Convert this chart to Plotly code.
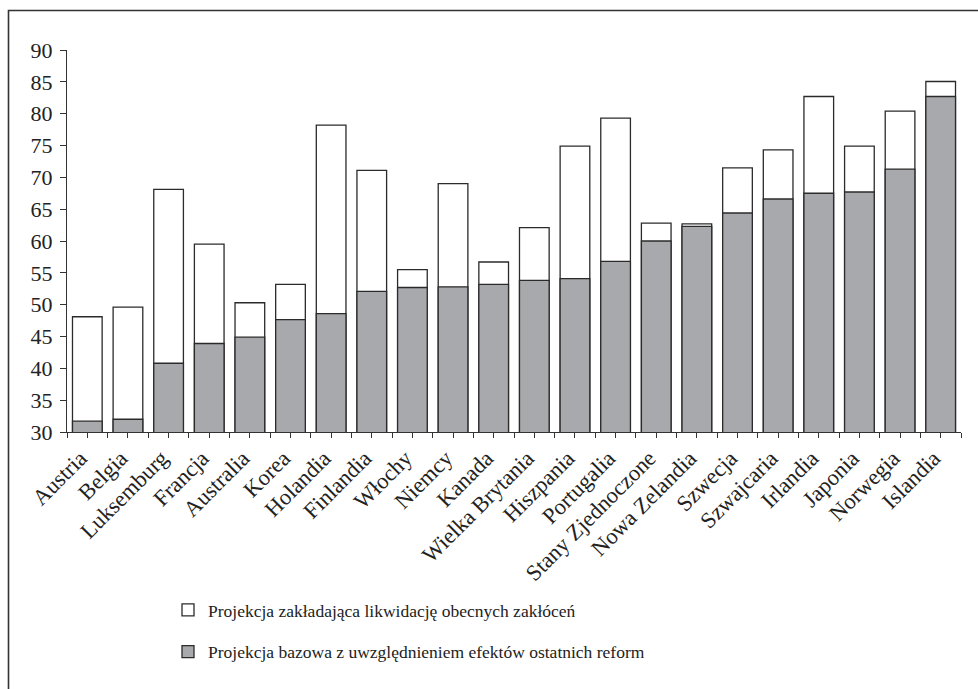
import plotly.graph_objects as go

countries = ["Austria", "Belgia", "Luksemburg", "Francja", "Australia", "Korea",
             "Holandia", "Finlandia", "Włochy", "Niemcy", "Kanada", "Wielka Brytania",
             "Hiszpania", "Portugalia", "Stany Zjednoczone", "Nowa Zelandia", "Szwecja",
             "Szwajcaria", "Irlandia", "Japonia", "Norwegia", "Islandia"]
projection_no_distortions = [48.1, 49.6, 68.1, 59.5, 50.3, 53.2, 78.2, 71.1, 55.5, 69.0, 56.7,
                             62.1, 74.9, 79.3, 62.8, 62.7, 71.5, 74.3, 82.7, 74.9, 80.4, 85.05]
projection_base = [31.7, 32.0, 40.8, 43.9, 44.9, 47.65, 48.6, 52.1, 52.7, 52.8, 53.2,
                   53.8, 54.1, 56.8, 60.0, 62.3, 64.4, 66.6, 67.5, 67.7, 71.3, 82.7]
y_ticks = [30, 35, 40, 45, 50, 55, 60, 65, 70, 75, 80, 85, 90]
legend_names = ["Projekcja zakładająca likwidację obecnych zakłóceń",
                "Projekcja bazowa z uwzględnieniem efektów ostatnich reform"]

FONT = "Liberation Serif"
W, H = 978, 689
L, T = 67, 50
R = W - 961
B = H - 432
pw, ph = W - L - R, H - T - B

xs = list(range(len(countries)))

fig = go.Figure()
fig.add_trace(go.Bar(
    x=xs, y=projection_no_distortions, name=legend_names[0], width=0.73,
    marker=dict(color="white", line=dict(color="#2b2b2b", width=1.3)),
    legendgroup="a"))
fig.add_trace(go.Bar(
    x=xs, y=projection_base, name=legend_names[1], width=0.73,
    marker=dict(color="#a8a9ac", line=dict(color="#2b2b2b", width=1.3)),
    legendgroup="b"))

fig.update_layout(
    width=W, height=H,
    margin=dict(l=L, r=R, t=T, b=B, autoexpand=False),
    barmode="overlay",
    plot_bgcolor="white", paper_bgcolor="white",
    font=dict(family=FONT, color="#222", size=19),
    showlegend=True,
    legend=dict(x=(168 - L) / pw, y=(T + ph - 592) / ph,
                xanchor="left", yanchor="top",
                font=dict(size=17.5, family=FONT, color="#222"),
                tracegroupgap=16, traceorder="grouped", itemwidth=30,
                bgcolor="rgba(0,0,0,0)"),
    xaxis=dict(range=[-0.5, len(countries) - 0.5], tickmode="array", tickvals=xs,
               ticktext=countries, tickangle=-45, ticks="outside", ticklen=5,
               tickcolor="#333", tickwidth=1, showline=True, linecolor="#333",
               linewidth=1.3, showgrid=False, zeroline=False,
               ticklabelshift=-7, ticklabelstandoff=-2,
               tickfont=dict(size=22.5, family=FONT, color="#222"),
               minor=dict(tickmode="linear", tick0=-0.5, dtick=1, ticks="outside",
                          ticklen=5, tickcolor="#333", tickwidth=1, showgrid=False)),
    yaxis=dict(range=[30, 90], tickmode="array", tickvals=y_ticks, ticks="outside",
               ticklen=6, tickcolor="#333", showline=True, linecolor="#333",
               linewidth=1.3, showgrid=False, zeroline=False, ticklabelstandoff=3,
               tickfont=dict(size=22, family=FONT, color="#222")),
)

# outer frame (cropped at right and bottom in the original)
fig.add_shape(type="rect", xref="paper", yref="paper",
              x0=(8.5 - L) / pw, x1=(W + 60 - L) / pw,
              y0=(T + ph - (H + 60)) / ph, y1=(T + ph - 10.5) / ph,
              line=dict(color="#333", width=1.6), fillcolor="rgba(0,0,0,0)",
              layer="below")

fig.write_html(
    "out.html",
    config={"displayModeBar": False},
    post_script="document.body.style.margin='0px';"
                "document.documentElement.style.overflow='hidden';"
                "document.body.style.overflow='hidden';")
